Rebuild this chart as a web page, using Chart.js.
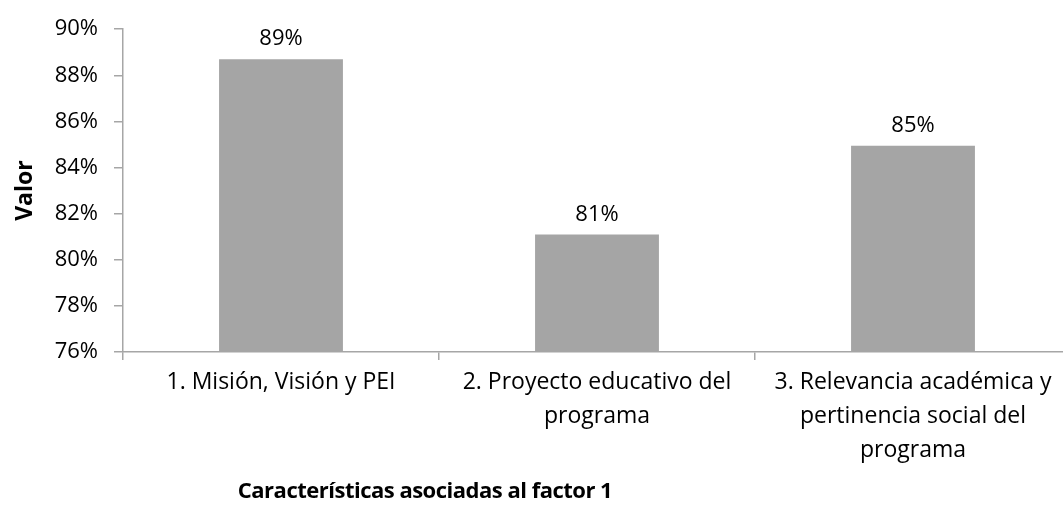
<!DOCTYPE html>
<html>
<head>
<meta charset="utf-8">
<script src="https://cdn.jsdelivr.net/npm/chart.js@4"></script>
<style>
  html, body { margin: 0; padding: 0; background: #fff; overflow: hidden; }
  #wrap { position: relative; width: 1080px; height: 510px; }
  #xtitle { position: absolute; left: 0; width: 850px; top: 474px; text-align: center; line-height: 30px;
            font-family: "Open Sans", sans-serif; font-weight: bold; font-size: 22px; color: #000; letter-spacing: -0.5px; }
</style>
</head>
<body>
<div id="wrap">
  <canvas id="c" width="1080" height="510"></canvas>
  <div id="xtitle">Características asociadas al factor 1</div>
</div>
<script>
const categories = [
  ["1. Misión, Visión y PEI"],
  ["2. Proyecto educativo del", "programa"],
  ["3. Relevancia académica y", "pertinencia social del", "programa"]
];
const values = [88.7, 81.1, 84.95];
const yMin = 76, yMax = 90, yStep = 2;
const yTitle = "Valor";

const FONT = '"Open Sans", sans-serif';
const axisColor = '#a6a6a6';

const valueLabels = {
  id: 'valueLabels',
  afterDatasetsDraw(chart) {
    const ctx = chart.ctx;
    const meta = chart.getDatasetMeta(0);
    ctx.save();
    ctx.font = '22px ' + FONT;
    ctx.fillStyle = '#000';
    ctx.textAlign = 'center';
    ctx.textBaseline = 'middle';
    meta.data.forEach((bar, i) => {
      ctx.fillText(Math.round(values[i]) + '%', bar.x, bar.y - 20);
    });
    ctx.restore();
  }
};

new Chart(document.getElementById('c'), {
  type: 'bar',
  data: {
    labels: categories,
    datasets: [{
      data: values,
      backgroundColor: '#a5a5a5',
      borderWidth: 0,
      barPercentage: 0.392,
      categoryPercentage: 1
    }]
  },
  options: {
    responsive: false,
    animation: false,
    layout: { padding: { top: 24, right: 9, bottom: 0, left: 0 } },
    plugins: { legend: { display: false }, tooltip: { enabled: false } },
    scales: {
      x: {
        grid: { display: true, offset: true, drawOnChartArea: false, drawTicks: true, tickLength: 8, color: axisColor, lineWidth: 1.5 },
        border: { display: true, color: axisColor, width: 1.5 },
        ticks: { font: { family: FONT, size: 23, lineHeight: 1.47 }, color: '#000', padding: 6, maxRotation: 0, autoSkip: false },
        afterFit(scale) { scale.height = 158; }
      },
      y: {
        min: yMin, max: yMax,
        grid: { display: true, drawOnChartArea: false, drawTicks: true, tickLength: 9, color: axisColor, lineWidth: 1.5 },
        border: { display: true, color: axisColor, width: 1.5 },
        ticks: { stepSize: yStep, font: { family: FONT, size: 22 }, color: '#000', padding: 16,
                 callback: v => v + '%' },
        title: { display: true, text: yTitle, font: { family: FONT, size: 23, weight: 'bold' }, color: '#000', padding: { top: 12, bottom: 0 } },
        afterFit(scale) { scale.width = 123; }
      }
    }
  },
  plugins: [valueLabels]
});
</script>
</body>
</html>
